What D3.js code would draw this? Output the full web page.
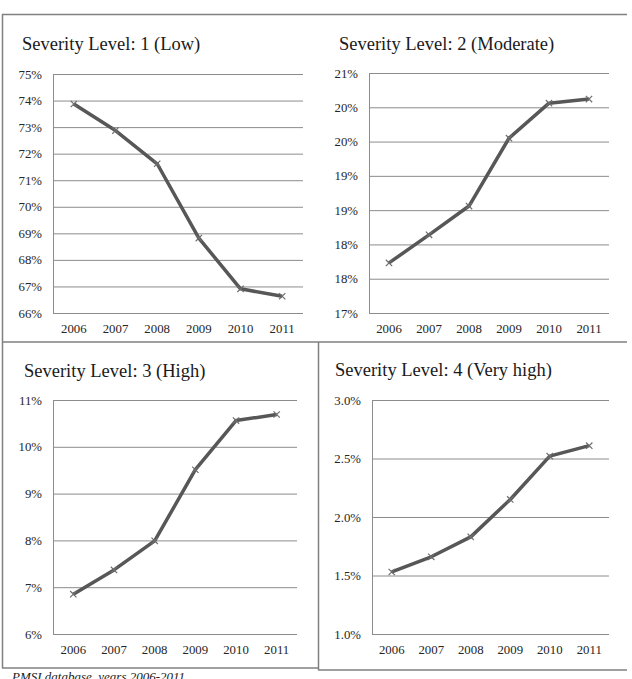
<!DOCTYPE html>
<html>
<head>
<meta charset="utf-8">
<script src="https://cdn.jsdelivr.net/npm/d3@7"></script>
<style>
  html, body { margin: 0; padding: 0; background: #fff; overflow: hidden; }
  svg { display: block; font-family: "Liberation Serif", "DejaVu Serif", serif; }
  .title { font-size: 18.5px; fill: #1a1a1a; }
  .axis text { font-size: 12.8px; fill: #262626; font-family: "Liberation Serif", serif; }
  .grid line, .grid path { stroke: #8c8c8c; stroke-width: 1; }
  .frame { stroke: #808080; stroke-width: 1.5; fill: none; }
  .caption { font-size: 13px; font-style: italic; fill: #222; }
</style>
</head>
<body>
<div id="chart"></div>
<script>
// Share of stays per severity level, PMSI 2006-2011.
const years = ["2006", "2007", "2008", "2009", "2010", "2011"];
const lowValues = [73.87, 72.87, 71.62, 68.82, 66.91, 66.63];
const moderateValues = [17.73, 18.14, 18.56, 19.55, 20.06, 20.12];
const highValues = [6.85, 7.37, 7.99, 9.51, 10.56, 10.69];
const veryHighValues = [1.53, 1.66, 1.83, 2.15, 2.52, 2.61];

const lowTicks = [66, 67, 68, 69, 70, 71, 72, 73, 74, 75];
const lowTickLabels = ["66%", "67%", "68%", "69%", "70%", "71%", "72%", "73%", "74%", "75%"];
const moderateTicks = [17, 17.5, 18, 18.5, 19, 19.5, 20, 20.5];
const moderateTickLabels = ["17%", "18%", "18%", "19%", "19%", "20%", "20%", "21%"];
const highTicks = [6, 7, 8, 9, 10, 11];
const highTickLabels = ["6%", "7%", "8%", "9%", "10%", "11%"];
const veryHighTicks = [1.0, 1.5, 2.0, 2.5, 3.0];
const veryHighTickLabels = ["1.0%", "1.5%", "2.0%", "2.5%", "3.0%"];

const titles = [
  "Severity Level: 1 (Low)",
  "Severity Level: 2 (Moderate)",
  "Severity Level: 3 (High)",
  "Severity Level: 4 (Very high)",
];
const caption = "PMSI database, years 2006-2011";

const W = 632, H = 679;

// plot boxes and title anchors, one per panel
const frames = [
  { x0: 53, x1: 303, y0: 74, y1: 313, tx: 22, ty: 50 },
  { x0: 369, x1: 609, y0: 73, y1: 313, tx: 339, ty: 50 },
  { x0: 53, x1: 297, y0: 400, y1: 634, tx: 24, ty: 377 },
  { x0: 372, x1: 609, y0: 400, y1: 634, tx: 335, ty: 376 },
];

const panels = [
  { values: lowValues, ticks: lowTicks, labels: lowTickLabels },
  { values: moderateValues, ticks: moderateTicks, labels: moderateTickLabels },
  { values: highValues, ticks: highTicks, labels: highTickLabels },
  { values: veryHighValues, ticks: veryHighTicks, labels: veryHighTickLabels },
];

const svg = d3.select("#chart").append("svg")
  .attr("width", W).attr("height", H);

// table borders (no divider in the top row, as in the source)
const frameLines = [
  [2, 14.5, 627, 14.5],
  [2.5, 14, 2.5, 668],
  [2, 342, 627, 342],
  [318.5, 342, 318.5, 670],
  [2, 668, 318, 668],
  [318, 670, 627, 670],
];
svg.append("g").selectAll("line").data(frameLines).enter().append("line")
  .attr("class", "frame")
  .attr("x1", d => d[0]).attr("y1", d => d[1])
  .attr("x2", d => d[2]).attr("y2", d => d[3]);

function drawPanel(p, f, title) {
  const g = svg.append("g");
  const x = d3.scaleBand().domain(years).range([f.x0, f.x1]);
  const y = d3.scaleLinear()
    .domain([p.ticks[0], p.ticks[p.ticks.length - 1]])
    .range([f.y1, f.y0]);

  g.append("text").attr("class", "title")
    .attr("x", f.tx).attr("y", f.ty).text(title);

  g.append("g").attr("class", "axis grid")
    .attr("transform", `translate(${f.x0},0)`)
    .call(d3.axisLeft(y).tickValues(p.ticks)
      .tickFormat((_, i) => p.labels[i])
      .tickSize(-(f.x1 - f.x0)).tickSizeOuter(0).tickPadding(11));

  g.append("g").attr("class", "axis")
    .attr("transform", `translate(0,${f.y1})`)
    .call(d3.axisBottom(x).tickSize(0).tickPadding(11))
    .call(a => a.select(".domain").remove());

  const pts = years.map((yr, i) => [x(yr) + x.bandwidth() / 2, y(p.values[i])]);
  g.append("path")
    .attr("d", d3.line()(pts))
    .attr("fill", "none").attr("stroke", "#575757")
    .attr("stroke-width", 3.5).attr("stroke-linejoin", "round");

  g.selectAll(".mark").data(pts).enter().append("path")
    .attr("class", "mark")
    .attr("transform", d => `translate(${d[0]},${d[1]})`)
    .attr("d", d3.symbol().type(d3.symbolX).size(28))
    .attr("fill", "none").attr("stroke", "#6e6e6e").attr("stroke-width", 1.2);
}

panels.forEach((p, i) => drawPanel(p, frames[i], titles[i]));

// the source crops this note at the bottom edge
svg.append("text").attr("class", "caption")
  .attr("x", 12).attr("y", 681).text(caption);
</script>
</body>
</html>
